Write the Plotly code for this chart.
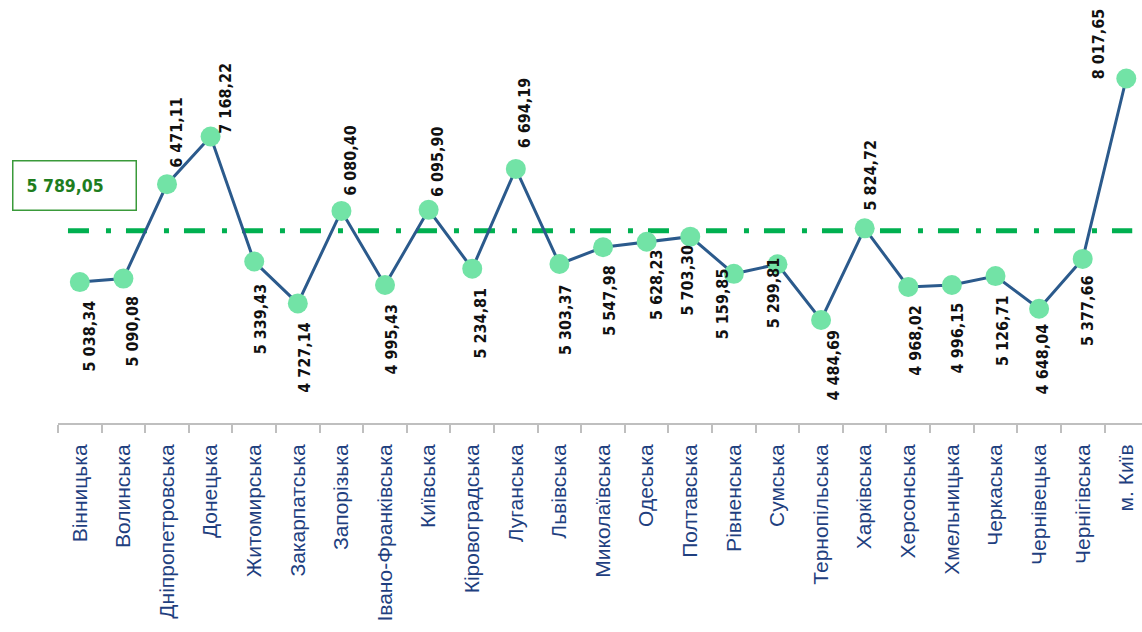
import plotly.graph_objects as go

REGIONS = ["Вінницька", "Волинська", "Дніпропетровська", "Донецька", "Житомирська",
           "Закарпатська", "Запорізька", "Івано-Франківська", "Київська", "Кіровоградська",
           "Луганська", "Львівська", "Миколаївська", "Одеська", "Полтавська",
           "Рівненська", "Сумська", "Тернопільська", "Харківська", "Херсонська",
           "Хмельницька", "Черкаська", "Чернівецька", "Чернігівська", "м. Київ"]
WAGES = [5038.34, 5090.08, 6471.11, 7168.22, 5339.43,
         4727.14, 6080.40, 4995.43, 6095.90, 5234.81,
         6694.19, 5303.37, 5547.98, 5628.23, 5703.30,
         5159.85, 5299.81, 4484.69, 5824.72, 4968.02,
         4996.15, 5126.71, 4648.04, 5377.66, 8017.65]
UKRAINE_AVG = 5789.05

# label placement (style): side, x shift px, gap px from marker centre
PLACEMENT = [
    ("below", 10, 17), ("below", 9, 16), ("above", 10, 15), ("above", 14, 2), ("below", 6, 21),
    ("below", 7, 17), ("above", 9, 14), ("below", 7, 18), ("above", 9, 12), ("below", 8, 18),
    ("above", 9, 20), ("below", 6, 19), ("below", 7, 17), ("below", 10, 6), ("below", -3, 7),
    ("below", -12, -7), ("below", -4, -8), ("below", 12, 9), ("above", 6, 17), ("below", 7, 17),
    ("below", 6, 16), ("below", 7, 18), ("below", 3, 14), ("below", 5, 15), ("above", -27, -2),
]

LABEL_FONT = "DejaVu Sans Condensed"


def fmt(v):
    return f"{v:,.2f}".replace(",", " ").replace(".", ",")


fig = go.Figure()
fig.add_trace(go.Scatter(
    x=REGIONS, y=WAGES, mode="lines+markers",
    line=dict(color="#2b5a8c", width=3),
    marker=dict(size=20, color="#72e3a6", line=dict(width=0)),
    hoverinfo="skip", showlegend=False,
))

fig.add_shape(type="line", xref="paper", yref="y", x0=0.0092, x1=0.991,
              y0=UKRAINE_AVG, y1=UKRAINE_AVG,
              line=dict(color="#00b050", width=5, dash="21px,17px,5px,15px"), layer="below")

annotations = []
for name, v, (side, dx, gap) in zip(REGIONS, WAGES, PLACEMENT):
    annotations.append(dict(
        x=name, y=v, xref="x", yref="y", text=fmt(v), showarrow=False,
        textangle=-90, xanchor="center",
        yanchor="top" if side == "below" else "bottom",
        xshift=dx, yshift=-gap if side == "below" else gap,
        font=dict(family=LABEL_FONT, size=16, color="#111111", weight="bold"),
        borderpad=0,
    ))

annotations.append(dict(
    xref="paper", yref="paper", x=-0.0424, y=0.6217, xanchor="left", yanchor="top",
    text=fmt(UKRAINE_AVG), showarrow=False, align="left", valign="middle",
    width=96, height=22, borderpad=13, borderwidth=1.5, bordercolor="#3a9a3a",
    bgcolor="white",
    font=dict(family=LABEL_FONT, size=17.5, color="#1e7d1e", weight="bold"),
))

fig.update_layout(
    width=1142, height=632,
    margin=dict(l=58, r=0, t=0, b=209),
    paper_bgcolor="white", plot_bgcolor="white",
    annotations=annotations,
    xaxis=dict(type="category", categoryorder="array", categoryarray=REGIONS,
               range=[-0.5, 24.36], tickangle=-90, ticks="outside", tickson="boundaries",
               ticklen=8, tickcolor="#bfbfbf", tickwidth=1.5,
               showline=True, linecolor="#bfbfbf", linewidth=2,
               showgrid=False, zeroline=False, automargin=False,
               ticklabelstandoff=11,
               tickfont=dict(family="Liberation Sans", size=21, color="#1f3f7f")),
    yaxis=dict(range=[2977, 9166], visible=False, showgrid=False, zeroline=False),
)

fig.write_html("out.html")
